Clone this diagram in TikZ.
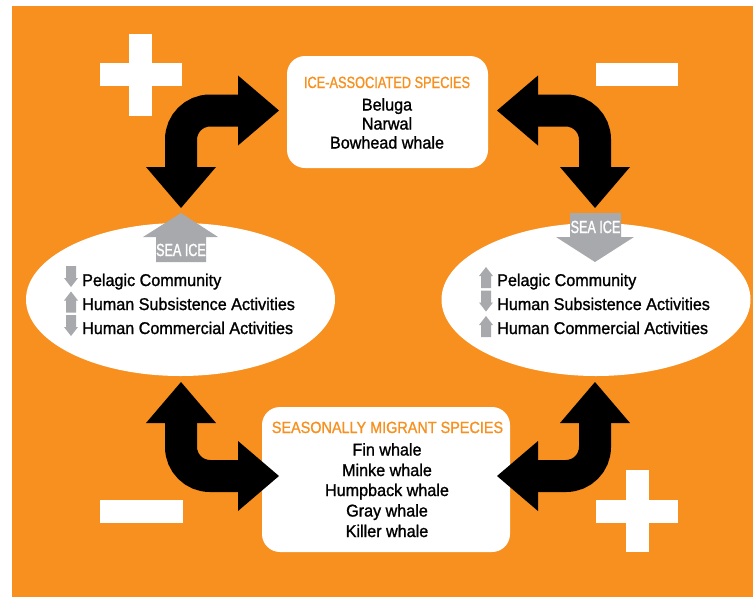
\documentclass[tikz,border=0pt]{standalone}
\usepackage{fontspec}
\setmainfont{Liberation Sans}[FakeStretch=0.95,FakeBold=1.2]
\newfontfamily\hdrA{Liberation Sans}[FakeStretch=0.79,FakeBold=1.0]
\newfontfamily\hdrB{Liberation Sans}[FakeStretch=0.89,FakeBold=1.0]
\newfontfamily\seafont{Liberation Sans}[FakeStretch=0.72,FakeBold=1.4]
\usetikzlibrary{arrows.meta,shapes.geometric}
\definecolor{bgorange}{HTML}{F7901E}
\definecolor{seagray}{HTML}{A7A9AC}
\tikzset{
  body/.style={anchor=base, inner sep=0pt, font=\fontsize{17}{20}\selectfont, text=black},
  hdr/.style={anchor=base, inner sep=0pt, font=\fontsize{16.2}{20}\selectfont, text=bgorange},
  seatxt/.style={anchor=base, inner sep=0pt, font=\seafont\fontsize{17.5}{17}\selectfont, text=white},
  wbox/.style={rectangle, rounded corners=18pt, fill=white, inner sep=0pt},
  well/.style={ellipse, fill=white, inner sep=0pt, minimum width=309pt, minimum height=153pt},
  bigarrow/.style={line width=32pt, rounded corners=29pt,
    {Triangle[length=41pt,width=70pt,line width=0pt]}-{Triangle[length=41pt,width=70pt,line width=0pt]}},
  pics/smalldown/.style={code={\fill[seagray] (-5,-11) -- (5,-11) -- (5,1) -- (7,1) -- (0,10) -- (-7,1) -- (-5,1) -- cycle;}},
  pics/smallup/.style={code={\fill[seagray] (-5,11) -- (5,11) -- (5,-1) -- (7,-1) -- (0,-10) -- (-7,-1) -- (-5,-1) -- cycle;}},
}
\begin{document}
\begin{tikzpicture}[x=1pt,y=-1pt]
\useasboundingbox (0,0) rectangle (753,598);
\fill[white] (0,0) rectangle (753,598);
\fill[bgorange] (12,6) rectangle (753,597);

% plus / minus signs
\fill[white] (100,63) rectangle (182,86);
\fill[white] (129,34) rectangle (152,116);
\fill[white] (596,63) rectangle (678,86);
\fill[white] (100,500) rectangle (183,523);
\fill[white] (596,500) rectangle (678,523);
\fill[white] (626,470) rectangle (649,552);

% boxes and ellipses
\node[wbox, minimum width=201pt, minimum height=112pt] (ice) at (387.5,112) {};
\node[wbox, minimum width=248pt, minimum height=145pt] (mig) at (386,479.5) {};
\node[well] (lell) at (180.5,299.5) {};
\node[well] (rell) at (596,299.5) {};

% gray SEA ICE arrows
\fill[seagray] (181,213) -- (218,237) -- (206,237) -- (206,262) -- (156,262) -- (156,237) -- (143,237) -- cycle;
\node[seatxt] (seaL) at (181,256) {SEA ICE};
\fill[seagray] (570,213) -- (621,213) -- (621,237) -- (634,237) -- (595,262) -- (556,237) -- (570,237) -- cycle;
\node[seatxt] (seaR) at (595.5,233) {SEA ICE};

% black bent double arrows
\coordinate (tlA) at (279,110.5);
\coordinate (tlB) at (181,208);
\coordinate (trA) at (497,110.5);
\coordinate (trB) at (595,208);
\coordinate (blA) at (279,476);
\coordinate (blB) at (181,382);
\coordinate (brA) at (497,476);
\coordinate (brB) at (595,382);
\draw[bigarrow] (tlA) -| (tlB);
\draw[bigarrow] (trA) -| (trB);
\draw[bigarrow] (blA) -| (blB);
\draw[bigarrow] (brA) -| (brB);

% top box text
\node[hdr, font=\hdrA\fontsize{16.2}{20}\selectfont] (iceh) at (387,88) {ICE-ASSOCIATED SPECIES};
\node[body] (ice1) at (387,110.5) {Beluga};
\node[body] (ice2) at (387,129.5) {Narwal};
\node[body] (ice3) at (387,148.5) {Bowhead whale};

% bottom box text
\node[hdr, font=\hdrB\fontsize{16.2}{20}\selectfont] (migh) at (387.5,433) {SEASONALLY MIGRANT SPECIES};
\node[body] (mig1) at (387,455.5) {Fin whale};
\node[body] (mig2) at (387,476) {Minke whale};
\node[body] (mig3) at (387,496) {Humpback whale};
\node[body] (mig4) at (387,516.5) {Gray whale};
\node[body] (mig5) at (387,537) {Killer whale};

% left ellipse text
\pic at (71,277) {smalldown};
\pic at (71,301.5) {smallup};
\pic at (71,326) {smalldown};
\node[body, anchor=base west] (l1) at (82,286) {Pelagic Community};
\node[body, anchor=base west] (l2) at (82,310) {Human Subsistence Activities};
\node[body, anchor=base west] (l3) at (82,334) {Human Commercial Activities};

% right ellipse text
\pic at (486,277) {smallup};
\pic at (486,301.5) {smalldown};
\pic at (486,326) {smallup};
\node[body, anchor=base west] (r1) at (497,286) {Pelagic Community};
\node[body, anchor=base west] (r2) at (497,310) {Human Subsistence Activities};
\node[body, anchor=base west] (r3) at (497,334) {Human Commercial Activities};
\end{tikzpicture}
\end{document}
